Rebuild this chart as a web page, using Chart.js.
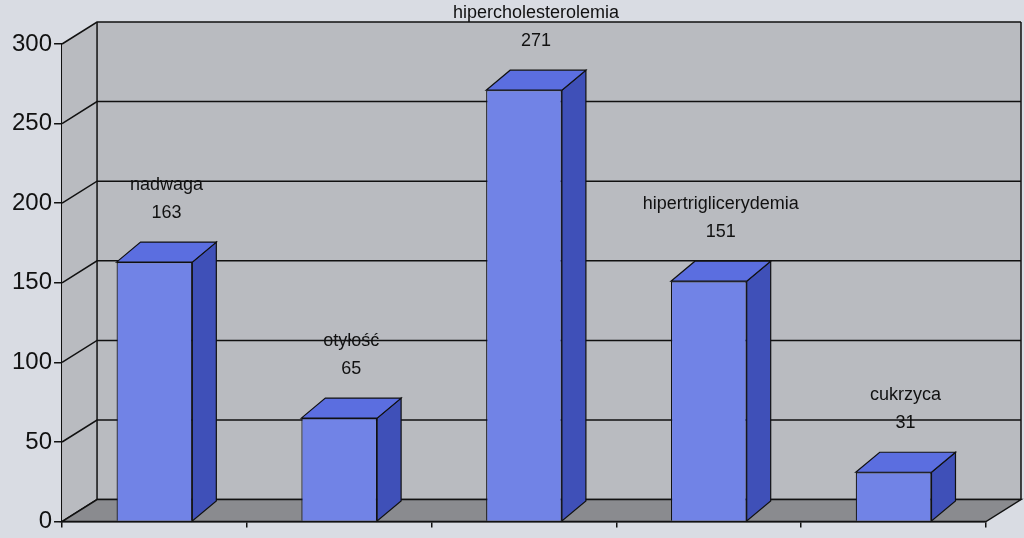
<!DOCTYPE html>
<html><head><meta charset="utf-8">
<script src="https://cdn.jsdelivr.net/npm/chart.js@4"></script>
<style>html,body{margin:0;padding:0;background:#d9dce3;}#w{width:1024px;height:538px;}</style>
</head><body><div id="w"><canvas id="c" width="1024" height="538"></canvas></div>
<script>
const categories = ["nadwaga","otyłość","hipercholesterolemia","hipertriglicerydemia","cukrzyca"];
const values = [163,65,271,151,31];
const yTicks = [0,50,100,150,200,250,300];

const WDX=35, WDY=-22, BDX=24, BDY=-20;
const threeD = {
  id:'threeD',
  beforeDatasetsDraw(chart){
    const {ctx, chartArea:a, scales:{y}} = chart;
    ctx.save();
    ctx.fillStyle='#b9bbc0';
    ctx.beginPath();
    ctx.moveTo(a.left,a.top);ctx.lineTo(a.left+WDX,a.top+WDY);ctx.lineTo(a.right+WDX,a.top+WDY);
    ctx.lineTo(a.right+WDX,a.bottom+WDY);ctx.lineTo(a.left,a.bottom);ctx.closePath();ctx.fill();
    ctx.strokeStyle='#111';ctx.lineWidth=1.5;
    yTicks.forEach(t=>{const py=y.getPixelForValue(t);ctx.beginPath();ctx.moveTo(a.left,py);ctx.lineTo(a.left+WDX,py+WDY);ctx.lineTo(a.right+WDX,py+WDY);ctx.stroke();});
    ctx.beginPath();ctx.moveTo(a.left+WDX,a.top+WDY);ctx.lineTo(a.left+WDX,a.bottom+WDY);ctx.stroke();
    ctx.beginPath();ctx.moveTo(a.right+WDX,a.top+WDY);ctx.lineTo(a.right+WDX,a.bottom+WDY);ctx.stroke();
    ctx.fillStyle='#8a8b8f';
    ctx.beginPath();ctx.moveTo(a.left,a.bottom);ctx.lineTo(a.right,a.bottom);ctx.lineTo(a.right+WDX,a.bottom+WDY);ctx.lineTo(a.left+WDX,a.bottom+WDY);ctx.closePath();ctx.fill();ctx.stroke();
    ctx.restore();
  },
  afterDatasetsDraw(chart){
    const {ctx} = chart;
    const meta = chart.getDatasetMeta(0);
    ctx.save();
    ctx.strokeStyle='#111';ctx.lineWidth=1.2;
    meta.data.forEach((b,i)=>{
      const l=b.x-b.width/2, r=b.x+b.width/2, t=b.y, bo=b.base;
      ctx.fillStyle='#3f50b8';
      ctx.beginPath();ctx.moveTo(r,t);ctx.lineTo(r+BDX,t+BDY);ctx.lineTo(r+BDX,bo+BDY);ctx.lineTo(r,bo);ctx.closePath();ctx.fill();ctx.stroke();
      ctx.fillStyle='#5b6ee0';
      ctx.beginPath();ctx.moveTo(l,t);ctx.lineTo(l+BDX,t+BDY);ctx.lineTo(r+BDX,t+BDY);ctx.lineTo(r,t);ctx.closePath();ctx.fill();ctx.stroke();
      ctx.fillStyle='#111';ctx.font='18px "Liberation Sans", Arial';ctx.textAlign='center';
      ctx.fillText(categories[i], b.x+BDX/2, t-72);
      ctx.fillText(String(values[i]), b.x+BDX/2, t-44);
    });
    ctx.restore();
  }
};
new Chart(document.getElementById('c'),{
  type:'bar',
  data:{labels:categories,datasets:[{data:values,backgroundColor:'#7183e6',borderColor:'#111',borderWidth:1.2,barPercentage:0.41,categoryPercentage:1}]},
  options:{responsive:false,animation:false,
    layout:{padding:{left:10,right:38,top:44,bottom:0}},
    plugins:{legend:{display:false},tooltip:{enabled:false}},
    scales:{
      x:{offset:true,ticks:{display:false},grid:{drawOnChartArea:false,color:'#111',tickLength:6,lineWidth:1.5},border:{color:'#111',width:1.5}},
      y:{min:0,max:300,afterBuildTicks(ax){ax.ticks=yTicks.map(v=>({value:v}));},
        ticks:{color:'#111',font:{size:24,family:'"Liberation Sans", Arial'},padding:2},
        grid:{drawOnChartArea:false,color:'#111',tickLength:8,lineWidth:1.5},border:{color:'#111',width:1.5}}
    }
  },
  plugins:[threeD]
});
</script></body></html>
